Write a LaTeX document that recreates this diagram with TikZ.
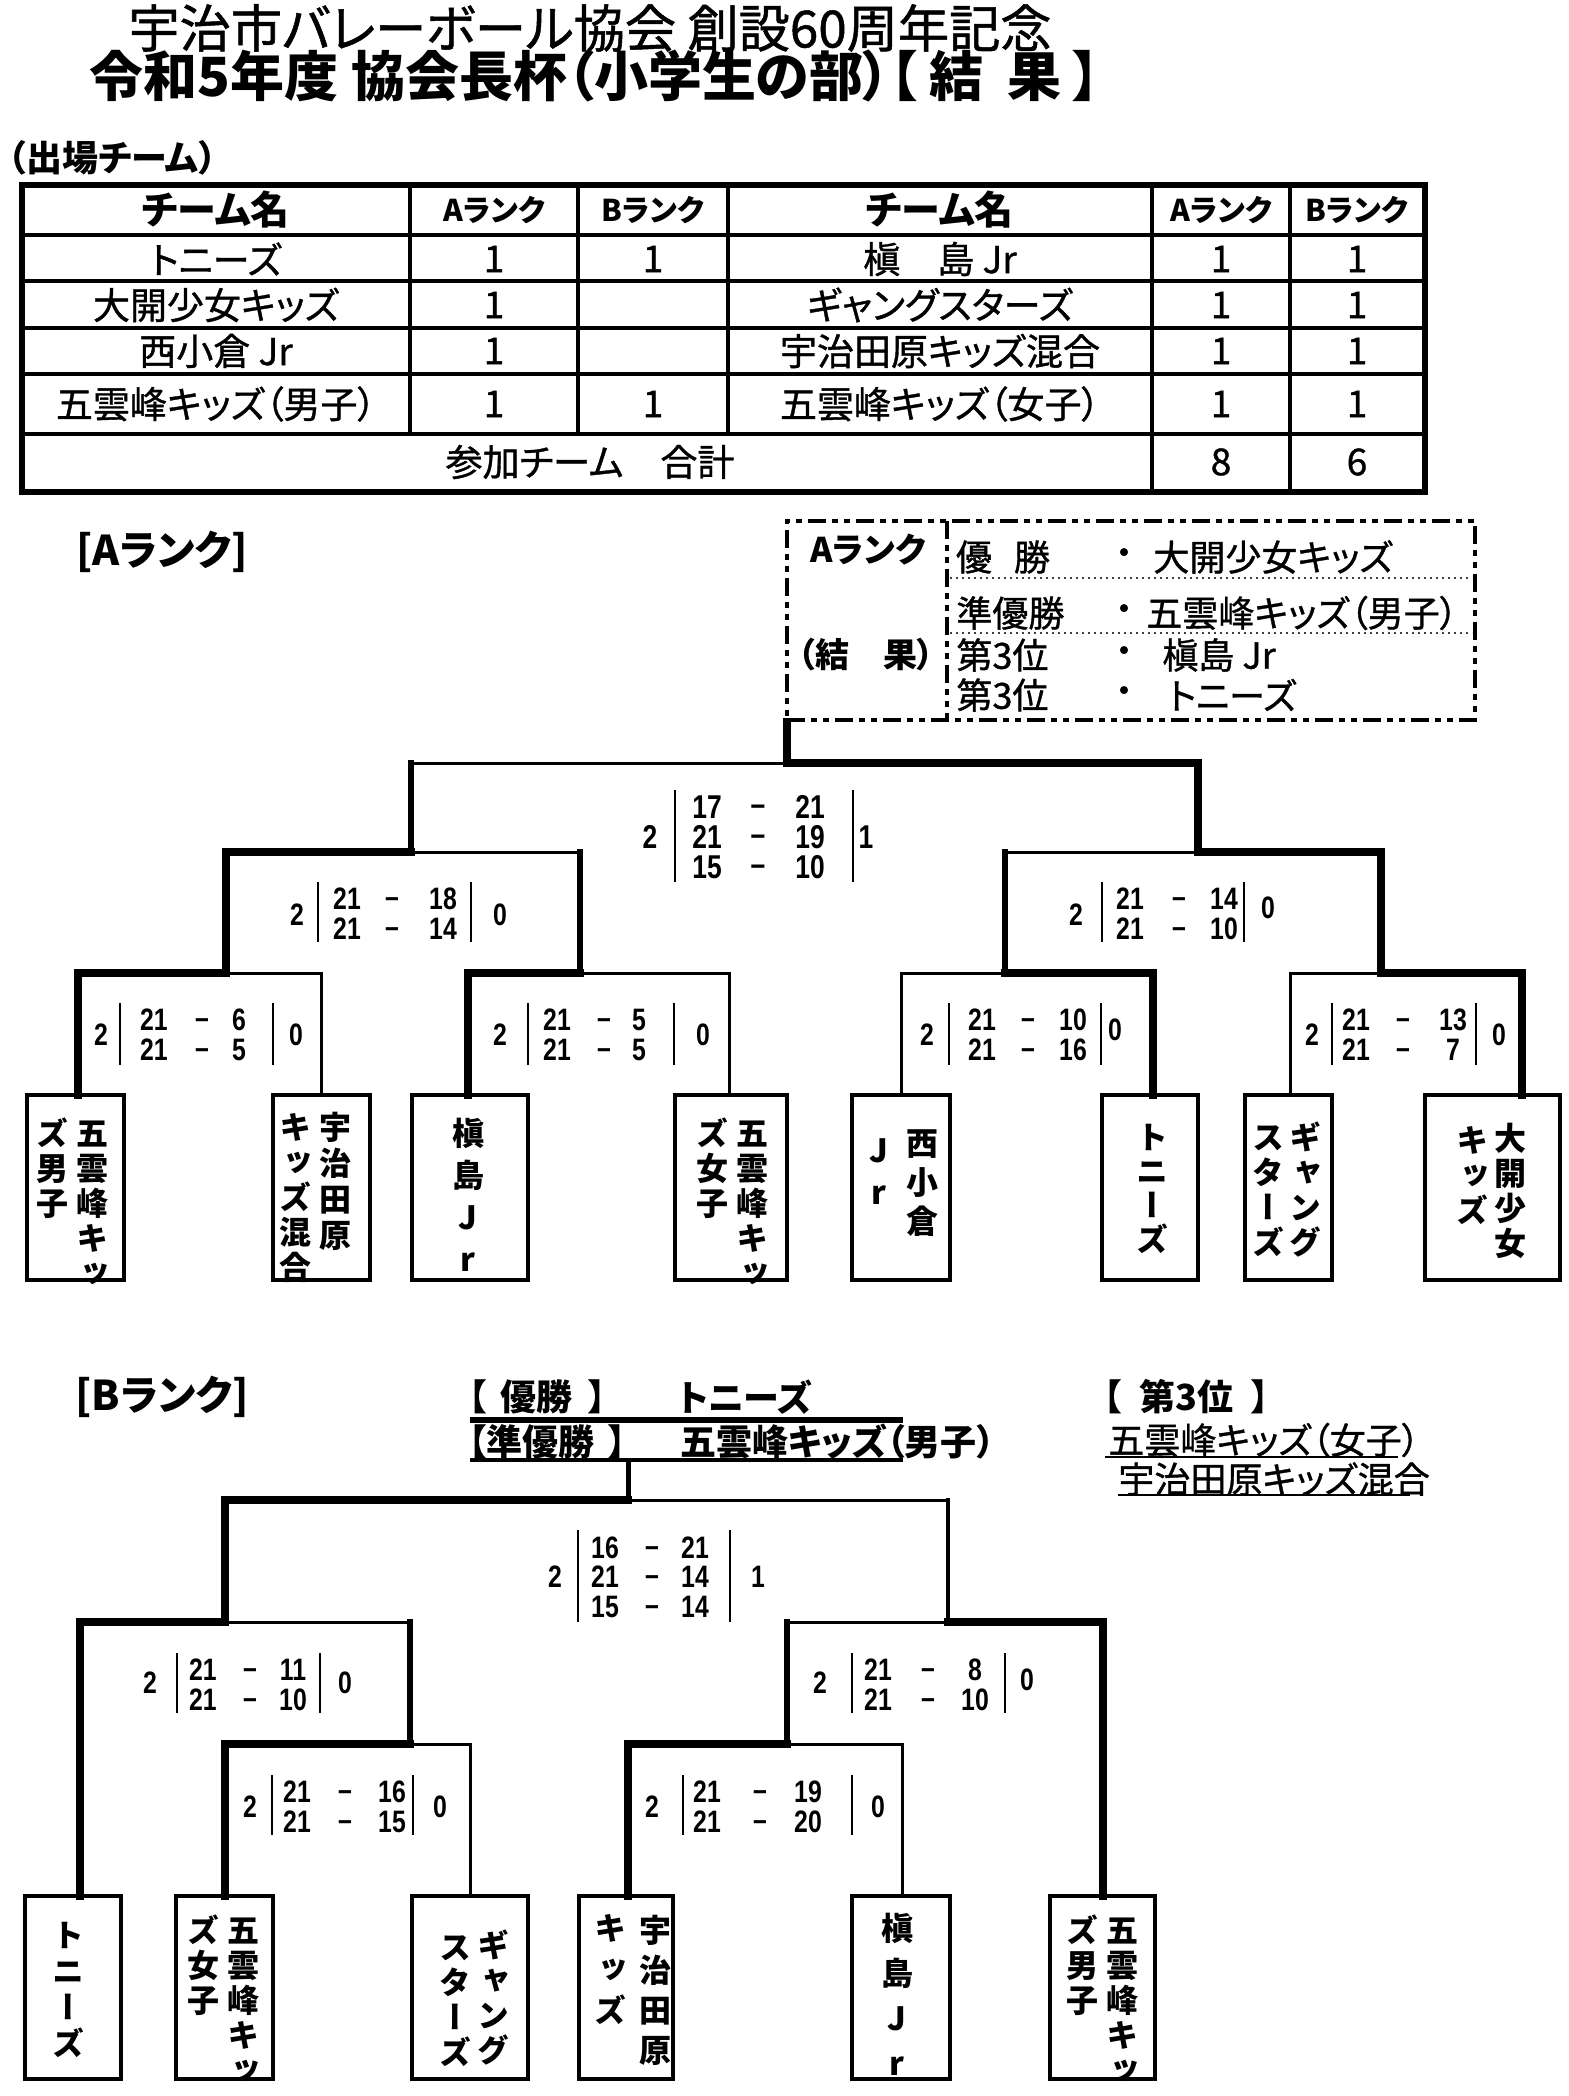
\documentclass[tikz,border=0pt]{standalone}
\usepackage{fontspec}
\setmainfont{Noto Sans CJK JP}[RawFeature=+palt]
\newfontfamily\jpm{Noto Sans CJK JP}[RawFeature=+palt, FakeBold=1]
\newfontfamily\vjp{Noto Sans CJK JP}[RawFeature=+vert]
\newfontfamily\numf{Liberation Sans}[FakeStretch=0.8]
\tikzset{
  win/.style={line width=3.8pt},
  lose/.style={line width=1.5pt},
  vthk/.style={line width=3.3pt},
  vmed/.style={line width=2.3pt},
  teambox/.style={draw, line width=2pt, minimum width=#1, minimum height=92.5pt},
  teamboxB/.style={draw, line width=2pt, minimum width=#1, minimum height=91.5pt},
  sc/.style={font=\numf\bfseries\fontsize{15.5}{17}\selectfont},
  scf/.style={font=\numf\bfseries\fontsize{16.5}{18}\selectfont},
  sbar/.style={line width=1.4pt, line cap=butt},
  cell/.style={font=\jpm\fontsize{18.5}{20}\selectfont},
  hcell/.style={font=\bfseries\fontsize{19.5}{21}\selectfont},
  rcell/.style={font=\bfseries\fontsize{15}{17}\selectfont},
  restxt/.style={font=\jpm\fontsize{18}{20}\selectfont, anchor=west},
  resdot/.style={font=\jpm\fontsize{18}{20}\selectfont},
  resbox/.style={draw, line width=2.2pt, line cap=butt, dash pattern=on 9pt off 3pt on 3pt off 3pt on 3pt off 3pt},
  btxt/.style={font=\bfseries\fontsize{18}{20}\selectfont, anchor=west},
  btxtm/.style={font=\jpm\fontsize{18}{20}\selectfont, anchor=west},
}
\newcommand\vcolumn[5]{\node[anchor=north, align=center, font=\vjp\bfseries\fontsize{16}{#4}\selectfont] (#1) at (#2,#3-16) {\rule{0pt}{14pt}#5};}
\newcommand\srow[8]{%
  \node[#8] (#1a) at (#3,#2) {#6};
  \node[#8] (#1d) at (#4,#2) {\vphantom{0}\raisebox{0.08em}{–}};
  \node[#8] (#1b) at (#5,#2) {#7};}
\begin{document}
\begin{tikzpicture}[x=0.5pt,y=-0.5pt,every node/.style={inner sep=0pt},line cap=rect,line join=miter]
\fill[white] (0,0) rectangle (1568,2096);
\useasboundingbox (0,0) rectangle (1568,2096);

% ---------- titles ----------
\node[font=\jpm\fontsize{25.6}{28}\selectfont] (title1) at (590,28) {宇治市バレーボール協会 創設60周年記念};
\node[font=\bfseries\fontsize{27}{29}\selectfont] (title2) at (595,76) {令和5年度 協会長杯（小学生の部）【\hspace{6pt}結\hspace{12pt}果\hspace{6pt}】};

% ---------- table ----------
\draw[line width=2.6pt] (22,185) rectangle (1425,492);
\foreach \yy in {235,281,328,374,434} \draw[line width=2.2pt] (22,\yy) -- (1425,\yy);
\foreach \xx in {410,578,728} \draw[line width=2pt] (\xx,185) -- (\xx,434);
\foreach \xx in {1152,1290} \draw[line width=2pt] (\xx,185) -- (\xx,492);
\node[anchor=west, font=\bfseries\fontsize{18}{20}\selectfont] (entry) at (8,158) {（出場チーム）};

\node[hcell] (h1) at (216,210) {チーム名};
\node[rcell] (h2) at (494,210) {Aランク};
\node[rcell] (h3) at (653,210) {Bランク};
\node[hcell] (h4) at (940,210) {チーム名};
\node[rcell] (h5) at (1221,210) {Aランク};
\node[rcell] (h6) at (1357,210) {Bランク};

\node[cell] (c11) at (216,259) {トニーズ};
\node[cell] (c12) at (494,259) {1};
\node[cell] (c13) at (653,259) {1};
\node[cell] (c14) at (940,259) {槇　島 Jr};
\node[cell] (c15) at (1221,259) {1};
\node[cell] (c16) at (1357,259) {1};

\node[cell] (c21) at (216,305) {大開少女キッズ};
\node[cell] (c22) at (494,305) {1};
\node[cell] (c24) at (940,305) {ギャングスターズ};
\node[cell] (c25) at (1221,305) {1};
\node[cell] (c26) at (1357,305) {1};

\node[cell] (c31) at (216,351) {西小倉 Jr};
\node[cell] (c32) at (494,351) {1};
\node[cell] (c34) at (940,351) {宇治田原キッズ混合};
\node[cell] (c35) at (1221,351) {1};
\node[cell] (c36) at (1357,351) {1};

\node[cell] (c41) at (216,404) {五雲峰キッズ（男子）};
\node[cell] (c42) at (494,404) {1};
\node[cell] (c43) at (653,404) {1};
\node[cell] (c44) at (940,404) {五雲峰キッズ（女子）};
\node[cell] (c45) at (1221,404) {1};
\node[cell] (c46) at (1357,404) {1};

\node[cell] (c51) at (590,462) {参加チーム　合計};
\node[cell] (c55) at (1221,462) {8};
\node[cell] (c56) at (1357,462) {6};

% ---------- A rank ----------
\node[font=\bfseries\fontsize{20.5}{24}\selectfont] (alabel) at (162,552) {[Aランク]};

\node[resbox, minimum width=344pt, minimum height=99.5pt] (resA) at (1131,620.5) {};
\draw[resbox] (947,521) -- (947,720);
\draw[line width=1pt, dotted, black!75, line cap=butt] (950,578) -- (1472,578);
\draw[line width=1pt, dotted, black!75, line cap=butt] (950,633) -- (1472,633);
\node[font=\bfseries\fontsize{17}{19}\selectfont] (rAa) at (868,550) {Aランク};
\node[font=\bfseries\fontsize{17}{19}\selectfont] (rAb) at (866,655) {（結　果）};
\node[resdot] (r1a) at (974,557) {優};
\node[resdot] (r1b) at (1032,557) {勝};
\node[resdot] (r1c) at (1124,557) {・};
\node[restxt] (r1d) at (1153,557) {大開少女キッズ};
\node[restxt] (r2a) at (956,613) {準優勝};
\node[resdot] (r2c) at (1124,613) {・};
\node[restxt] (r2d) at (1146,613) {五雲峰キッズ（男子）};
\node[restxt] (r3a) at (956,655) {第3位};
\node[resdot] (r3c) at (1124,655) {・};
\node[restxt] (r3d) at (1162,655) {槇島 Jr};
\node[restxt] (r4a) at (956,695) {第3位};
\node[resdot] (r4c) at (1124,695) {・};
\node[restxt] (r4d) at (1168,695) {トニーズ};

% team boxes A
\node[teambox=48.5pt] (a1) at (75.5,1187.5) {};
\node[teambox=48.5pt] (a2) at (321.5,1187.5) {};
\node[teambox=58pt] (a3) at (470,1187.5) {};
\node[teambox=56pt] (a4) at (731,1187.5) {};
\node[teambox=49pt] (a5) at (901,1187.5) {};
\node[teambox=48pt] (a6) at (1150,1187.5) {};
\node[teambox=43.5pt] (a7) at (1288.5,1187.5) {};
\node[teambox=67.5pt] (a8) at (1492.5,1187.5) {};
\begin{scope}
\clip (0,1093) rectangle (1568,1284);
\vcolumn{a1r}{92}{1133}{17.5}{五\\雲\\峰\\キ\\ッ}
\vcolumn{a1l}{52}{1133}{17.5}{ズ\\男\\子}
\vcolumn{a2r}{335}{1127}{18}{宇\\治\\田\\原}
\vcolumn{a2l}{295}{1127}{17.5}{キ\\ッ\\ズ\\混\\合}
\vcolumn{a3}{468}{1133}{21}{槇\\島\\J\\r}
\vcolumn{a4r}{752}{1133}{17.5}{五\\雲\\峰\\キ\\ッ}
\vcolumn{a4l}{712}{1133}{17.5}{ズ\\女\\子}
\vcolumn{a5r}{922}{1143}{19.5}{西\\小\\倉}
\vcolumn{a5l}{879}{1150}{21}{J\\r}
\vcolumn{a6}{1152}{1137}{17}{ト\\ニ\\ー\\ズ}
\vcolumn{a7r}{1305}{1137}{17.5}{ギ\\ャ\\ン\\グ}
\vcolumn{a7l}{1268}{1137}{17.5}{ス\\タ\\ー\\ズ}
\vcolumn{a8r}{1510}{1138}{17.5}{大\\開\\少\\女}
\vcolumn{a8l}{1472}{1140}{17.5}{キ\\ッ\\ズ}
\end{scope}

% bracket A
\coordinate (AF) at (787,763);
\coordinate (ASL) at (411,852);
\coordinate (ASR) at (1198,852);
\coordinate (AM1) at (226,973);
\coordinate (AM2) at (580,973);
\coordinate (AM3) at (1005,973);
\coordinate (AM4) at (1381,973);
\coordinate (a1t) at (78,1095);
\coordinate (a2t) at (321,1095);
\coordinate (a3t) at (468,1095);
\coordinate (a4t) at (729,1095);
\coordinate (a5t) at (901,1095);
\coordinate (a6t) at (1153,1095);
\coordinate (a7t) at (1290,1095);
\coordinate (a8t) at (1522,1095);
\draw[win] (a1t) |- (AM1);
\draw[lose] (a2t) |- (AM1);
\draw[win] (a3t) |- (AM2);
\draw[lose] (a4t) |- (AM2);
\draw[lose] (a5t) |- (AM3);
\draw[win] (a6t) |- (AM3);
\draw[lose] (a7t) |- (AM4);
\draw[win] (a8t) |- (AM4);
\draw[win] (AM1) |- (ASL);
\draw[vthk] (AM2) -- (AM2 |- ASL);
\draw[lose] (AM2 |- ASL) -- (ASL);
\draw[vthk] (AM3) -- (AM3 |- ASR);
\draw[lose] (AM3 |- ASR) -- (ASR);
\draw[win] (AM4) |- (ASR);
\draw[vthk] (ASL) -- (ASL |- AF);
\draw[lose] (ASL |- AF) -- (AF);
\draw[win] (ASR) |- (AF);
\draw[win] (AF) -- (AF |- resA.south);

% scores A
\node[scf] (AFl) at (650,837) {2};
\node[scf] (AFr) at (866,837) {1};
\srow{AF1}{807}{707}{758}{810}{17}{21}{scf}
\srow{AF2}{837}{707}{758}{810}{21}{19}{scf}
\srow{AF3}{867}{707}{758}{810}{15}{10}{scf}
\draw[sbar] (675,790) -- (675,882);
\draw[sbar] (853,790) -- (853,882);

\node[sc] (ASLl) at (297,915) {2};
\node[sc] (ASLr) at (500,915) {0};
\srow{ASL1}{899}{347}{392}{443}{21}{18}{sc}
\srow{ASL2}{929}{347}{392}{443}{21}{14}{sc}
\draw[sbar] (318,882) -- (318,942);
\draw[sbar] (471,882) -- (471,942);

\node[sc] (AM1l) at (101,1035) {2};
\node[sc] (AM1r) at (296,1035) {0};
\srow{AM1x}{1020}{154}{202}{239}{21}{6}{sc}
\srow{AM1y}{1050}{154}{202}{239}{21}{5}{sc}
\draw[sbar] (120,1003) -- (120,1065);
\draw[sbar] (273,1003) -- (273,1065);

\node[sc] (AM2l) at (500,1035) {2};
\node[sc] (AM2r) at (703,1035) {0};
\srow{AM2x}{1020}{557}{604}{639}{21}{5}{sc}
\srow{AM2y}{1050}{557}{604}{639}{21}{5}{sc}
\draw[sbar] (528,1003) -- (528,1065);
\draw[sbar] (674,1003) -- (674,1065);

\node[sc] (ASRl) at (1076,915) {2};
\node[sc] (ASRr) at (1268,908) {0};
\srow{ASR1}{899}{1130}{1179}{1224}{21}{14}{sc}
\srow{ASR2}{929}{1130}{1179}{1224}{21}{10}{sc}
\draw[sbar] (1102,882) -- (1102,942);
\draw[sbar] (1244,882) -- (1244,942);

\node[sc] (AM3l) at (927,1035) {2};
\node[sc] (AM3r) at (1115,1030) {0};
\srow{AM3x}{1020}{982}{1028}{1073}{21}{10}{sc}
\srow{AM3y}{1050}{982}{1028}{1073}{21}{16}{sc}
\draw[sbar] (949,1003) -- (949,1065);
\draw[sbar] (1101,1003) -- (1101,1065);

\node[sc] (AM4l) at (1312,1035) {2};
\node[sc] (AM4r) at (1499,1035) {0};
\srow{AM4x}{1020}{1356}{1403}{1453}{21}{13}{sc}
\srow{AM4y}{1050}{1356}{1403}{1453}{21}{7}{sc}
\draw[sbar] (1332,1003) -- (1332,1065);
\draw[sbar] (1476,1003) -- (1476,1065);

% ---------- B rank ----------
\node[font=\bfseries\fontsize{20.5}{24}\selectfont] (blabel) at (162,1397) {[Bランク]};
\node[btxt] (bw1) at (468,1397) {【\hspace{7pt}優勝\hspace{8pt}】};
\node[btxt] (bw2) at (678,1397) {トニーズ};
\node[btxt] (bru1) at (468,1442) {【準優勝\hspace{7pt}】};
\node[btxt] (bru2) at (680,1442) {五雲峰キッズ（男子）};
\node[btxt] (bth) at (1103,1397) {【\hspace{9pt}第3位\hspace{9pt}】};
\node[btxtm] (bt1) at (1108,1440) {五雲峰キッズ（女子）};
\node[btxtm] (bt2) at (1118,1479) {宇治田原キッズ混合};
\draw[line width=1.2pt, line cap=butt] (1105,1457) -- (1398,1457);
\draw[line width=1.2pt, line cap=butt] (1118,1495) -- (1410,1495);
\draw[line width=3pt, line cap=butt] (470,1420) -- (903,1420);
\draw[line width=2pt, line cap=butt] (470,1460) -- (903,1460);

\node[teamboxB=48pt] (b1) at (73,1987.5) {};
\node[teamboxB=48.5pt] (b2) at (224.5,1987.5) {};
\node[teamboxB=58pt] (b3) at (470,1987.5) {};
\node[teamboxB=47pt] (b4) at (626,1987.5) {};
\node[teamboxB=49pt] (b5) at (901,1987.5) {};
\node[teamboxB=52.5pt] (b6) at (1102.5,1987.5) {};
\begin{scope}
\clip (0,1894) rectangle (1568,2083);
\vcolumn{b1c}{68}{1935}{18}{ト\\ニ\\ー\\ズ}
\vcolumn{b2r}{243}{1930}{17.5}{五\\雲\\峰\\キ\\ッ}
\vcolumn{b2l}{203}{1930}{17.5}{ズ\\女\\子}
\vcolumn{b3r}{493}{1945}{17.5}{ギ\\ャ\\ン\\グ}
\vcolumn{b3l}{455}{1947}{17.5}{ス\\タ\\ー\\ズ}
\vcolumn{b4r}{655}{1930}{20}{宇\\治\\田\\原}
\vcolumn{b4l}{610}{1928}{20.5}{キ\\ッ\\ズ}
\vcolumn{b5c}{897}{1928}{22.5}{槇\\島\\J\\r}
\vcolumn{b6r}{1122}{1930}{17.5}{五\\雲\\峰\\キ\\ッ}
\vcolumn{b6l}{1082}{1930}{17.5}{ズ\\男\\子}
\end{scope}

% bracket B
\coordinate (Bch) at (628,1460);
\coordinate (BF) at (628,1500);
\coordinate (BSL) at (225,1622);
\coordinate (BSR) at (948,1622);
\coordinate (BM1) at (410,1744);
\coordinate (BM2) at (787,1744);
\coordinate (b1t) at (80,1896);
\coordinate (b2t) at (225,1896);
\coordinate (b3t) at (470,1896);
\coordinate (b4t) at (628,1896);
\coordinate (b5t) at (902,1896);
\coordinate (b6t) at (1103,1896);
\draw[win] (b1t) |- (BSL);
\draw[win] (b2t) |- (BM1);
\draw[lose] (b3t) |- (BM1);
\draw[win] (b4t) |- (BM2);
\draw[lose] (b5t) |- (BM2);
\draw[win] (b6t) |- (BSR);
\draw[vthk] (BM1) -- (BM1 |- BSL);
\draw[lose] (BM1 |- BSL) -- (BSL);
\draw[vthk] (BM2) -- (BM2 |- BSR);
\draw[lose] (BM2 |- BSR) -- (BSR);
\draw[win] (BSL) |- (BF);
\draw[vmed] (BSR) -- (BSR |- BF);
\draw[lose] (BSR |- BF) -- (BF);
\draw[line width=2.5pt] (BF) -- (Bch);

% scores B
\node[sc] (BFl) at (555,1577) {2};
\node[sc] (BFr) at (758,1577) {1};
\srow{BF1}{1548}{605}{652}{695}{16}{21}{sc}
\srow{BF2}{1577}{605}{652}{695}{21}{14}{sc}
\srow{BF3}{1607}{605}{652}{695}{15}{14}{sc}
\draw[sbar] (578,1530) -- (578,1622);
\draw[sbar] (730,1530) -- (730,1622);

\node[sc] (BSLl) at (150,1683) {2};
\node[sc] (BSLr) at (345,1683) {0};
\srow{BSL1}{1670}{203}{250}{293}{21}{11}{sc}
\srow{BSL2}{1700}{203}{250}{293}{21}{10}{sc}
\draw[sbar] (177,1653) -- (177,1713);
\draw[sbar] (320,1653) -- (320,1713);

\node[sc] (BM1l) at (250,1807) {2};
\node[sc] (BM1r) at (440,1807) {0};
\srow{BM1x}{1792}{297}{345}{392}{21}{16}{sc}
\srow{BM1y}{1822}{297}{345}{392}{21}{15}{sc}
\draw[sbar] (272,1775) -- (272,1835);
\draw[sbar] (413,1775) -- (413,1835);

\node[sc] (BSRl) at (820,1683) {2};
\node[sc] (BSRr) at (1027,1680) {0};
\srow{BSR1}{1670}{878}{928}{975}{21}{8}{sc}
\srow{BSR2}{1700}{878}{928}{975}{21}{10}{sc}
\draw[sbar] (852,1653) -- (852,1713);
\draw[sbar] (1005,1653) -- (1005,1713);

\node[sc] (BM2l) at (652,1807) {2};
\node[sc] (BM2r) at (878,1807) {0};
\srow{BM2x}{1792}{707}{760}{808}{21}{19}{sc}
\srow{BM2y}{1822}{707}{760}{808}{21}{20}{sc}
\draw[sbar] (683,1775) -- (683,1835);
\draw[sbar] (852,1775) -- (852,1835);
\end{tikzpicture}
\end{document}
